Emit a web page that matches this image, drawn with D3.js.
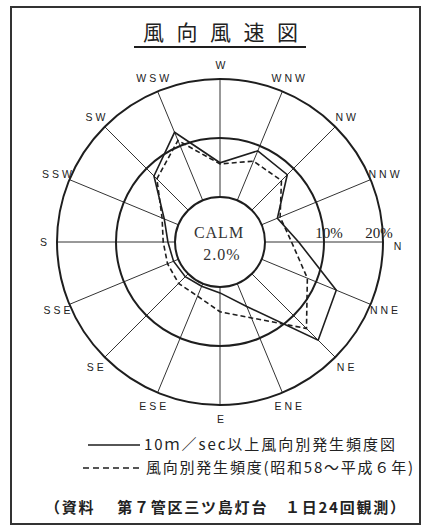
<!DOCTYPE html>
<html>
<head>
<meta charset="utf-8">
<script src="https://cdn.jsdelivr.net/npm/d3@7"></script>
<style>
  html, body { margin: 0; padding: 0; background: #fff; }
  svg { display: block; }
  .dir { font-family: "Liberation Sans", sans-serif; font-size: 10.5px; letter-spacing: 3px; fill: #222; }
  .pct { font-family: "Liberation Serif", serif; font-size: 15px; fill: #222; }
  .calm { font-family: "Liberation Serif", serif; font-size: 16px; fill: #333; letter-spacing: 1px; }
  .jp { font-family: "Noto Sans CJK JP", sans-serif; fill: #222; }
</style>
</head>
<body>
<div id="chart"></div>
<script>
  // 16 bearings, N first, clockwise
  var directions = ['N', 'NNE', 'NE', 'ENE', 'E', 'ESE', 'SE', 'SSE',
                    'S', 'SSW', 'SW', 'WSW', 'W', 'WNW', 'NW', 'NNW'];
  // 10m/sec以上 風向別発生頻度 (%)
  var strongWind = [5.7, 13.7, 15.9, 4.2, 1.0, 0.5, 0.7, 0.9,
                    1.2, 2.6, 8.2, 12.5, 5.8, 9.1, 8.5, 2.9];
  // 風向別発生頻度 (%)
  var frequency = [4.5, 8.4, 13.1, 6.3, 4.2, 2.3, 2.3, 2.0,
                   2.0, 3.0, 7.5, 11.0, 5.6, 7.2, 7.1, 3.4];
  var rTicks = [10, 20];
  var calmValue = '2.0%';

  var WIDTH = 426;
  var HEIGHT = 529;
  var CENTER = { X: 220, Y: 242 };
  var R_INNER = 45;
  var R_OUTER = 163;
  var INK = '#1e1e1e';

  var r = d3.scaleLinear().domain([0, 20]).range([R_INNER, R_OUTER]);
  // N points right, W up: bearing i sits at 90 + 22.5*i degrees
  var angle = d3.scaleLinear().domain([0, 16]).range([Math.PI / 2, Math.PI / 2 + 2 * Math.PI]);

  var svg = d3.select('#chart').append('svg')
    .attr('width', WIDTH)
    .attr('height', HEIGHT);

  // frame
  svg.append('rect')
    .attr('x', 11).attr('y', 7)
    .attr('width', 409).attr('height', 517)
    .attr('fill', 'none')
    .attr('stroke', '#333')
    .attr('stroke-width', 2);

  // title
  svg.append('text')
    .attr('class', 'jp')
    .attr('x', 143).attr('y', 40)
    .style('font-size', '21px')
    .attr('textLength', 155)
    .text('風向風速図');
  svg.append('line')
    .attr('x1', 134).attr('x2', 306)
    .attr('y1', 47).attr('y2', 47)
    .attr('stroke', INK)
    .attr('stroke-width', 2);

  var g = svg.append('g')
    .attr('transform', 'translate(' + CENTER.X + ',' + CENTER.Y + ')');

  // spokes
  g.selectAll('.spoke')
    .data(directions)
    .enter().append('line')
    .attr('class', 'spoke')
    .attr('x1', function(d, i) { return R_INNER * Math.sin(angle(i)); })
    .attr('y1', function(d, i) { return -R_INNER * Math.cos(angle(i)); })
    .attr('x2', function(d, i) { return R_OUTER * Math.sin(angle(i)); })
    .attr('y2', function(d, i) { return -R_OUTER * Math.cos(angle(i)); })
    .attr('stroke', '#333')
    .attr('stroke-width', 1);

  // rings
  g.selectAll('.ring')
    .data([0].concat(rTicks))
    .enter().append('circle')
    .attr('class', 'ring')
    .attr('r', function(d) { return r(d); })
    .attr('fill', function(d) { return d === 0 ? '#fff' : 'none'; })
    .attr('stroke', INK)
    .attr('stroke-width', 2);

  g.selectAll('.pct')
    .data(rTicks)
    .enter().append('text')
    .attr('class', 'pct')
    .attr('x', function(d, i) { return r(d) + (i === 0 ? 5 : -4); })
    .attr('y', -4)
    .attr('text-anchor', 'middle')
    .text(function(d) { return d + '%'; });

  // direction labels
  g.selectAll('.dir')
    .data(directions)
    .enter().append('text')
    .attr('class', 'dir')
    .attr('x', function(d, i) { return 177 * Math.sin(angle(i)) + 2; })
    .attr('y', function(d, i) { return -177 * Math.cos(angle(i)) + (i === 0 ? 4 : 0); })
    .attr('text-anchor', 'middle')
    .attr('dominant-baseline', 'central')
    .text(function(d) { return d; });

  var radial = d3.lineRadial()
    .angle(function(d, i) { return angle(i); })
    .radius(function(d) { return r(d); })
    .curve(d3.curveLinearClosed);

  g.append('path')
    .datum(frequency)
    .attr('d', radial)
    .attr('fill', 'none')
    .attr('stroke', INK)
    .attr('stroke-width', 1.6)
    .attr('stroke-dasharray', '5,3');

  g.append('path')
    .datum(strongWind)
    .attr('d', radial)
    .attr('fill', 'none')
    .attr('stroke', INK)
    .attr('stroke-width', 1.6);

  // calm
  g.append('text')
    .attr('class', 'calm')
    .attr('x', -1).attr('y', -4)
    .attr('text-anchor', 'middle')
    .text('CALM');
  g.append('text')
    .attr('class', 'calm')
    .attr('x', 2).attr('y', 18)
    .attr('text-anchor', 'middle')
    .text(calmValue);

  // legend
  svg.append('line')
    .attr('x1', 88).attr('x2', 140)
    .attr('y1', 445).attr('y2', 445)
    .attr('stroke', INK).attr('stroke-width', 1.6);
  svg.append('text')
    .attr('class', 'jp')
    .attr('x', 144).attr('y', 450)
    .style('font-size', '15px')
    .attr('textLength', 251)
    .text('10ｍ／sec以上風向別発生頻度図');

  svg.append('line')
    .attr('x1', 83).attr('x2', 140)
    .attr('y1', 468).attr('y2', 468)
    .attr('stroke', INK).attr('stroke-width', 1.6)
    .attr('stroke-dasharray', '6,4');
  svg.append('text')
    .attr('class', 'jp')
    .attr('x', 146).attr('y', 473)
    .style('font-size', '15px')
    .attr('textLength', 267)
    .text('風向別発生頻度(昭和58～平成６年)');

  svg.append('text')
    .attr('class', 'jp')
    .attr('x', 45).attr('y', 513)
    .style('font-size', '15px')
    .style('font-weight', 'bold')
    .attr('textLength', 360)
    .text('（資料　 第７管区三ツ島灯台　１日24回観測）');
</script>
</body>
</html>
